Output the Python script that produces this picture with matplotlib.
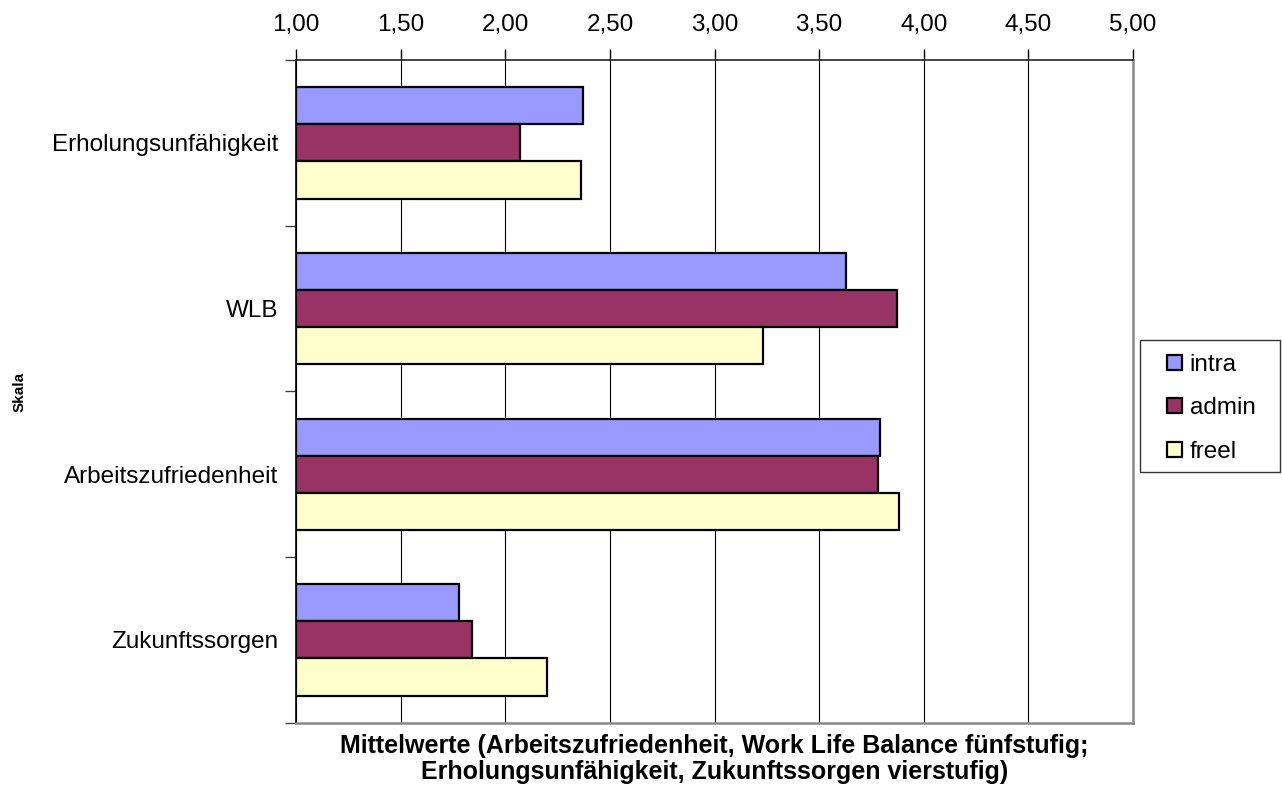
import matplotlib
matplotlib.use("Agg")
import matplotlib.pyplot as plt
from matplotlib.patches import Rectangle
from matplotlib.legend_handler import HandlerPatch
import numpy as np

plt.rcParams['font.family'] = ['Liberation Sans', 'DejaVu Sans']

categories = ["Erholungsunfähigkeit", "WLB", "Arbeitszufriedenheit", "Zukunftssorgen"]
series_names = ["intra", "admin", "freel"]
intra = [2.37, 3.63, 3.79, 1.78]
admin = [2.07, 3.87, 3.78, 1.84]
freel = [2.36, 3.23, 3.88, 2.20]
colors = ["#9999FF", "#993366", "#FFFFCC"]
xticks = [1.0, 1.5, 2.0, 2.5, 3.0, 3.5, 4.0, 4.5, 5.0]
xticklabels = ["1,00", "1,50", "2,00", "2,50", "3,00", "3,50", "4,00", "4,50", "5,00"]

W, H = 1282, 785
fig = plt.figure(figsize=(W/100, H/100), dpi=100)
ax = fig.add_axes([296/W, 1-722.7/H, (1133-296)/W, (722.7-60)/H])

y = np.arange(len(categories))
h = 0.224
for i, (vals, name, c) in enumerate(zip([intra, admin, freel], series_names, colors)):
    widths = [v - 1.0 for v in vals]
    ax.barh(y + (i - 1) * h, widths, left=1.0, height=h, color=c,
            edgecolor="black", linewidth=1.6, label=name, zorder=3)

ax.set_xlim(1.0, 5.0)
ax.set_ylim(3.5, -0.5)
ax.set_xticks(xticks)
ax.set_xticklabels(xticklabels, fontsize=17.5)
ax.xaxis.tick_top()
ax.tick_params(axis='x', which='major', direction='out', length=8, width=1, pad=9, color='black')

ax.set_yticks(y)
ax.set_yticklabels(categories, fontsize=17.5)
ax.set_yticks(np.arange(-0.5, 4.0, 1.0), minor=True)
ax.tick_params(axis='y', which='major', length=0, pad=13)
ax.tick_params(axis='y', which='minor', length=8, width=1, color='#444444')

ax.grid(axis='x', color='black', linewidth=0.8, zorder=0)
ax.set_axisbelow(True)

for s in ['bottom', 'right']:
    ax.spines[s].set_color('#888888')
    ax.spines[s].set_linewidth(1.8)
ax.spines['top'].set_color('#222222')
ax.spines['top'].set_linewidth(1.2)
ax.spines['left'].set_color('black')
ax.spines['left'].set_linewidth(1.2)

fig.text(0.5*(296+1133)/W, 1-759/H,
         "Mittelwerte (Arbeitszufriedenheit, Work Life Balance fünfstufig;\nErholungsunfähigkeit, Zukunftssorgen vierstufig)",
         ha='center', va='center', fontsize=18, fontweight='bold', linespacing=1.1)
fig.text(20/W, 1-392/H, "Skala", rotation=90, ha='center', va='center',
         fontsize=11, fontweight='bold')

fs = 17.5
sq_px = 15.0


def make_square(legend, orig_handle, xdescent, ydescent, width, height, fontsize):
    s = sq_px * 72 / 100
    return Rectangle((width - xdescent - s, -ydescent + (height - s) / 2), s, s)


proxies = [Rectangle((0, 0), 1, 1, facecolor=c, edgecolor='black', linewidth=1.6)
           for c in colors]
leg = fig.legend(proxies, series_names, loc='upper left', bbox_to_anchor=(1140/W, 1-344/H),
                 fontsize=fs, frameon=False, borderpad=0.4,
                 handlelength=1.32, handleheight=0.7, handletextpad=0.33,
                 labelspacing=0.88, borderaxespad=0,
                 handler_map={Rectangle: HandlerPatch(patch_func=make_square)})

fig.patches.append(Rectangle((1140/W, 1-472/H), 140/W, 132/H, transform=fig.transFigure,
                             fill=False, edgecolor='#333333', linewidth=1.0))

fig.savefig("out.png", dpi=100)
